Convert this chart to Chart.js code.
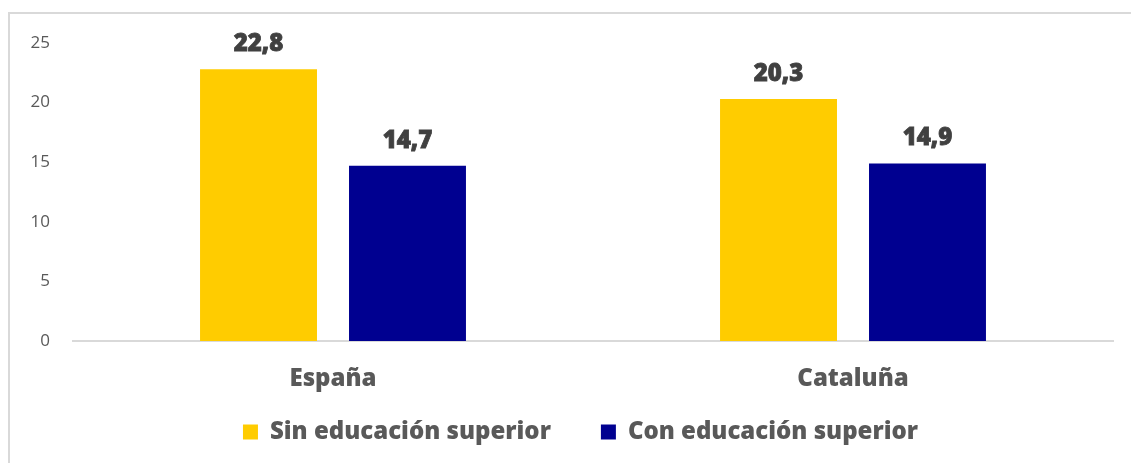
<!DOCTYPE html>
<html>
<head>
<meta charset="utf-8">
<script src="https://cdn.jsdelivr.net/npm/chart.js@4"></script>
<style>
  html, body { margin: 0; padding: 0; background: #fff; overflow: hidden; }
  #frame { position: absolute; left: 8px; top: 12px; width: 1140px; height: 470px; border-top: 2px solid #d9d9d9; border-left: 2px solid #d9d9d9; }
  #wrap { position: absolute; left: 0; top: 0; width: 1131px; height: 463px; }
</style>
</head>
<body>
<div id="frame"></div>
<div id="wrap"><canvas id="chart" width="1131" height="463"></canvas></div>
<script>
const categories = ['España', 'Cataluña'];
const sinEducacion = [22.8, 20.3];
const conEducacion = [14.7, 14.9];
const seriesNames = ['Sin educación superior', 'Con educación superior'];
const yTicks = [0, 5, 10, 15, 20, 25];

const heavy = "'Open Sans', sans-serif";

// value labels above each bar, comma as decimal separator
const barValues = {
  id: 'barValues',
  afterDatasetsDraw(chart) {
    const ctx = chart.ctx;
    ctx.save();
    ctx.font = "800 24px " + heavy;
    ctx.fillStyle = '#404040';
    ctx.strokeStyle = '#404040';
    ctx.lineWidth = 0.8;
    ctx.textAlign = 'center';
    ctx.textBaseline = 'middle';
    chart.data.datasets.forEach((ds, i) => {
      chart.getDatasetMeta(i).data.forEach((bar, j) => {
        const txt = ds.data[j].toFixed(1).replace('.', ',');
        ctx.fillText(txt, bar.x, bar.y - 25);
        ctx.strokeText(txt, bar.x, bar.y - 25);
      });
    });
    ctx.restore();
  }
};

// legend padding also sets the gap between items; pull the row back up
// and a bit to the right, like the original
const legendShift = {
  id: 'legendShift',
  afterLayout(chart) {
    const lg = chart.legend;
    lg.top -= 32;
    lg.bottom -= 32;
    lg.left += 24;
    lg.right += 24;
  }
};

new Chart(document.getElementById('chart'), {
  type: 'bar',
  data: {
    labels: categories,
    datasets: [
      { label: seriesNames[0], data: sinEducacion, backgroundColor: '#FFCC00' },
      { label: seriesNames[1], data: conEducacion, backgroundColor: '#000090' }
    ]
  },
  options: {
    responsive: false,
    animation: false,
    layout: { padding: { top: 43, right: 18, left: 0, bottom: -23 } },
    datasets: { bar: { categoryPercentage: 0.573, barPercentage: 0.785 } },
    scales: {
      x: {
        grid: { display: false, drawTicks: false },
        border: { color: '#d9d9d9', width: 2 },
        ticks: { color: '#595959', font: { family: heavy, size: 24, weight: 800 }, padding: 24 },
        afterFit(s) { s.height = 61; }
      },
      y: {
        min: 0,
        max: 25,
        afterBuildTicks(s) { s.ticks = yTicks.map(v => ({ value: v })); },
        grid: { display: false, drawTicks: false },
        border: { display: false },
        ticks: { color: '#595959', font: { family: "'Open Sans', sans-serif", size: 17 }, padding: 23 },
        afterFit(s) { s.width = 73; }
      }
    },
    plugins: {
      legend: {
        position: 'bottom',
        labels: {
          boxWidth: 15,
          boxHeight: 15,
          padding: 50,
          color: '#595959',
          font: { family: heavy, size: 24, weight: 800 }
        }
      },
      tooltip: { enabled: false }
    }
  },
  plugins: [barValues, legendShift]
});
</script>
</body>
</html>
